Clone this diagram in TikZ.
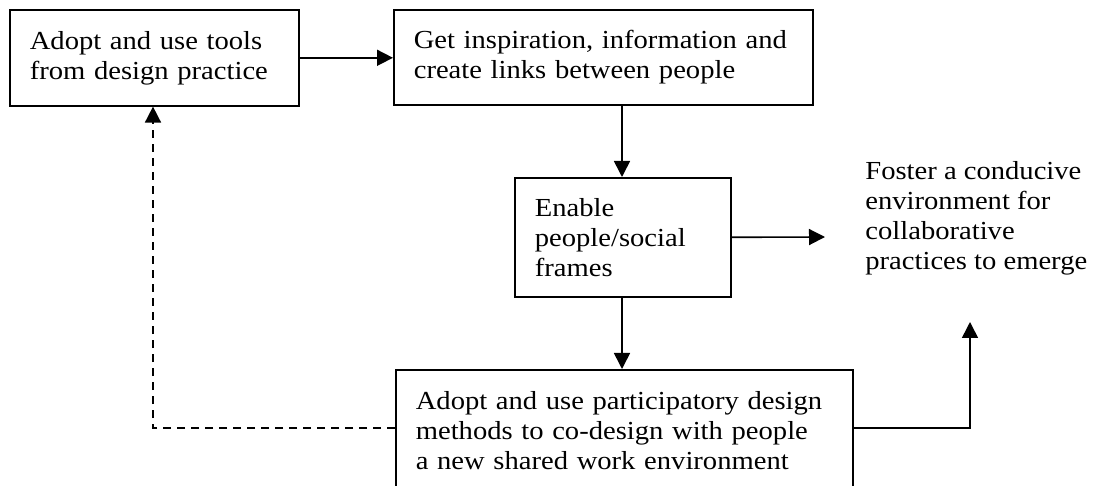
\documentclass[tikz,border=0pt]{standalone}
\usepackage{fontspec}
\setmainfont[FakeStretch=1.1]{Liberation Serif}
\usetikzlibrary{arrows.meta}

\tikzset{
  box/.style = {draw, line width=0.8pt, anchor=north west, align=left, inner xsep=10pt, inner ysep=0pt},
  arr/.style = {line width=0.8pt, -{Triangle[length=8pt,width=8pt]}},
}

\begin{document}
\begin{tikzpicture}[x=0.5pt, y=-0.5pt, font=\fontsize{13}{15}\selectfont]
            \useasboundingbox (0,0) rectangle (1098,486);   %Rand
            \node [box, text width=124.5pt, minimum height=48pt] (tools) at (9,9)
                {Adopt and use tools\\from design practice};
            \node [box, text width=189.5pt, minimum height=47.5pt] (inspire) at (393,9)
                {Get inspiration, information and\\create links between people};
            \node [box, text width=88pt, minimum height=59.5pt] (enable) at (514,177)
                {Enable\\people/social\\frames};
            \node [box, text width=208.5pt, inner ysep=11pt] (methods) at (395,369)
                {Adopt and use participatory design\\methods to co-design with people\\a new shared work environment\\[8pt]\mbox{}};
            \node [anchor=north west, align=left, inner sep=0pt] (foster) at (865,161)
                {Foster a conducive\\environment for\\collaborative\\practices to emerge};
            \coordinate (midx) at (622,0);        %senkrechte Achse
            \coordinate (fostertip) at (825,237);
            \coordinate (rcorner) at (970,428);
            \coordinate (uptip) at (970,322);
            \coordinate (lcorner) at (153,428);
            \draw [arr] (tools.east) -- (tools.east -| inspire.west);
            \draw [arr] (inspire.south -| midx) -- (enable.north -| midx);
            \draw [arr] (enable.east) -- (fostertip);
            \draw [arr] (enable.south -| midx) -- (methods.north -| midx);
            \draw [arr] (rcorner -| methods.east) -- (rcorner) -- (uptip);
            \draw [arr, dash pattern=on 4pt off 3pt] (lcorner -| methods.west) -- (lcorner) -- (lcorner |- tools.south);
        \end{tikzpicture}
\end{document}
